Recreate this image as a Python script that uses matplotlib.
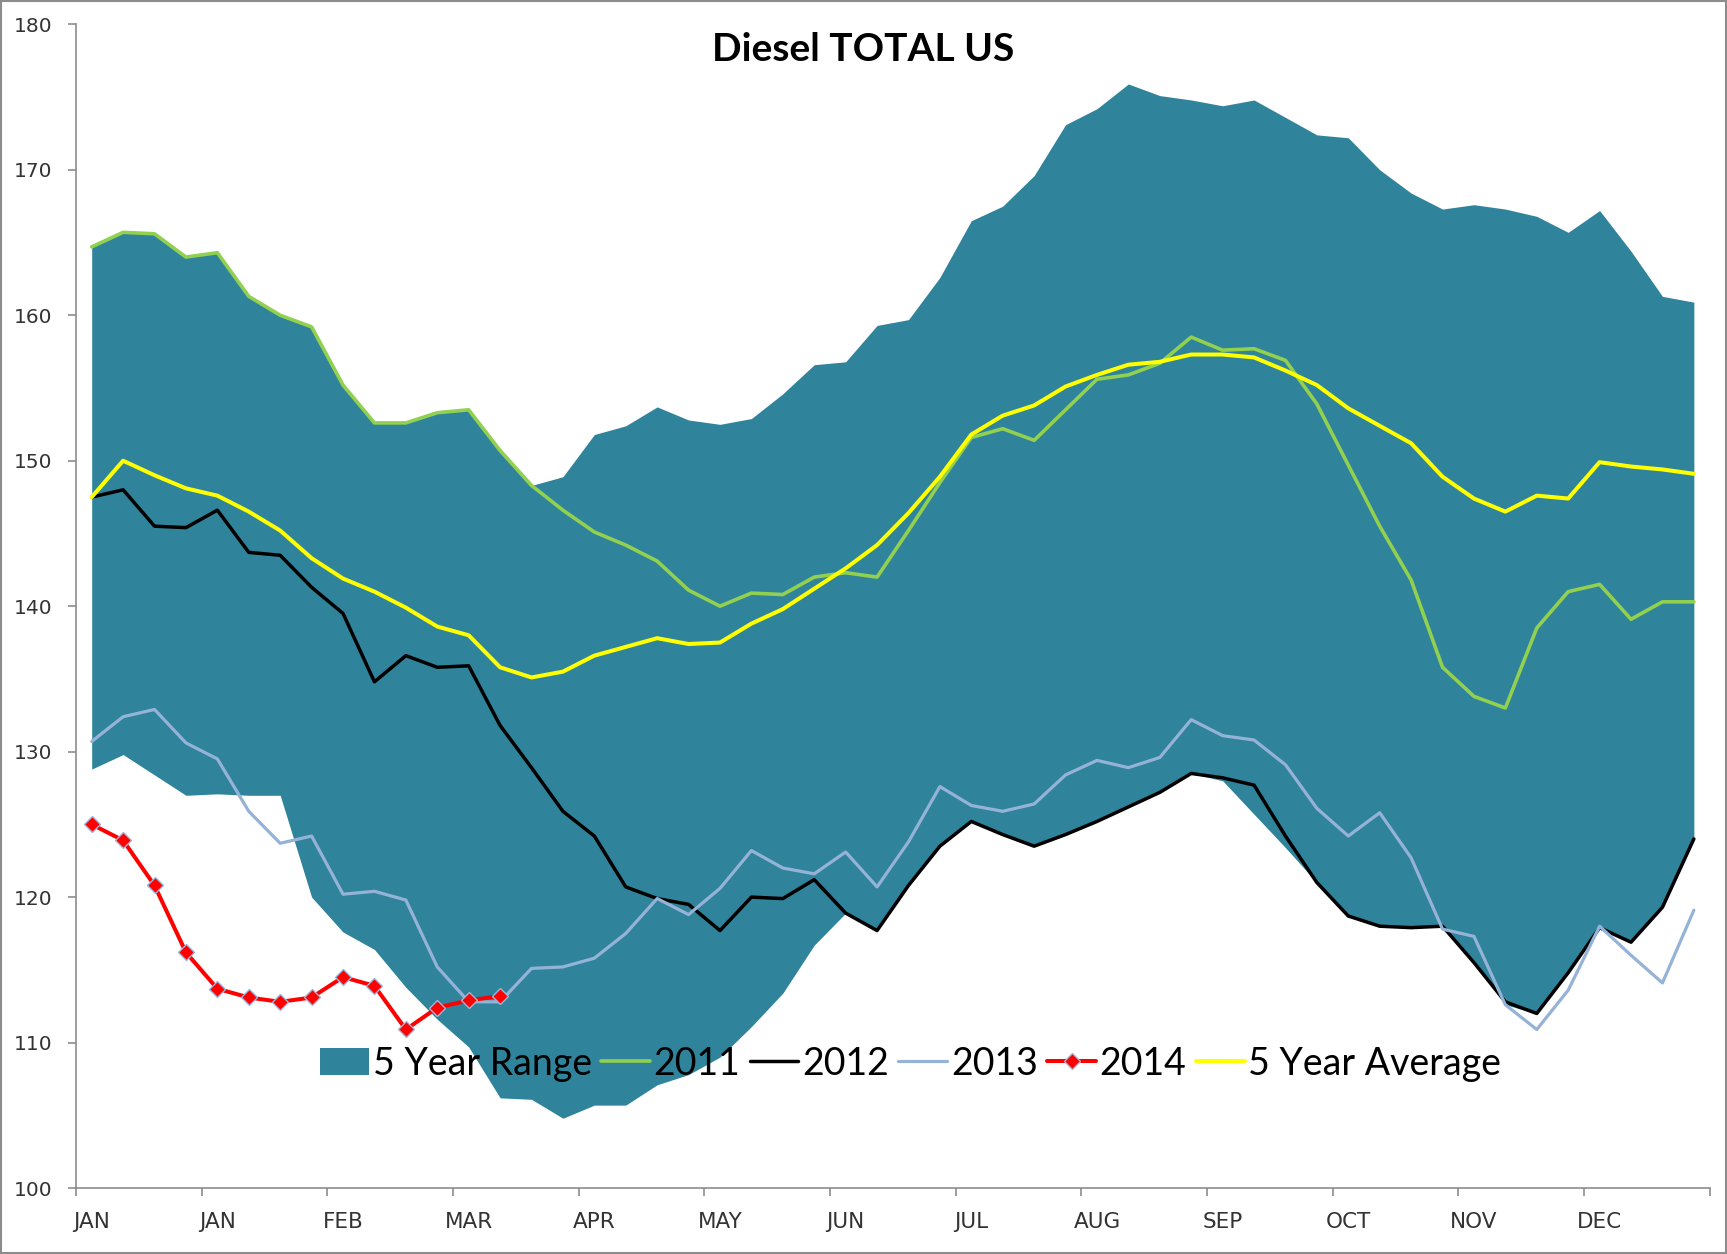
import numpy as np
import matplotlib.pyplot as plt

# weekly data, 52 weeks
weeks = np.arange(52)
months = ['JAN', 'JAN', 'FEB', 'MAR', 'APR', 'MAY', 'JUN',
          'JUL', 'AUG', 'SEP', 'OCT', 'NOV', 'DEC']

range_hi = [164.7, 165.7, 165.6, 164.0, 164.3, 161.3, 160.0, 159.2, 155.2, 152.6,
            152.6, 153.3, 153.5, 150.7, 148.3, 148.9, 151.8, 152.4, 153.7, 152.8,
            152.5, 152.9, 154.6, 156.6, 156.8, 159.3, 159.7, 162.6, 166.5, 167.5,
            169.6, 173.1, 174.2, 175.9, 175.1, 174.8, 174.4, 174.8, 173.6, 172.4,
            172.2, 170.0, 168.4, 167.3, 167.6, 167.3, 166.8, 165.7, 167.2, 164.4,
            161.3, 160.9]
range_lo = [128.8, 129.8, 128.4, 127.0, 127.1, 127.0, 127.0, 120.0, 117.6, 116.4,
            113.8, 111.6, 109.7, 106.2, 106.1, 104.8, 105.7, 105.7, 107.1, 107.8,
            109.0, 111.1, 113.4, 116.7, 118.9, 117.7, 120.8, 123.5, 125.2, 124.3,
            123.5, 124.3, 125.2, 126.2, 127.2, 128.5, 128.0, 125.7, 123.4, 121.0,
            118.7, 118.0, 117.9, 118.0, 115.5, 112.6, 112.0, 114.8, 117.9, 116.9,
            119.3, 124.0]
y2011 = [164.7, 165.7, 165.6, 164.0, 164.3, 161.3, 160.0, 159.2, 155.2, 152.6,
         152.6, 153.3, 153.5, 150.7, 148.3, 146.6, 145.1, 144.2, 143.1, 141.1,
         140.0, 140.9, 140.8, 142.0, 142.3, 142.0, 145.2, 148.5, 151.6, 152.2,
         151.4, 153.5, 155.6, 155.9, 156.7, 158.5, 157.6, 157.7, 156.9, 153.9,
         149.7, 145.5, 141.8, 135.8, 133.8, 133.0, 138.5, 141.0, 141.5, 139.1,
         140.3, 140.3]
y2012 = [147.5, 148.0, 145.5, 145.4, 146.6, 143.7, 143.5, 141.3, 139.5, 134.8,
         136.6, 135.8, 135.9, 131.8, 128.9, 125.9, 124.2, 120.7, 119.9, 119.5,
         117.7, 120.0, 119.9, 121.2, 118.9, 117.7, 120.8, 123.5, 125.2, 124.3,
         123.5, 124.3, 125.2, 126.2, 127.2, 128.5, 128.2, 127.7, 124.2, 121.0,
         118.7, 118.0, 117.9, 118.0, 115.5, 112.8, 112.0, 114.8, 117.9, 116.9,
         119.3, 124.0]
y2013 = [130.7, 132.4, 132.9, 130.6, 129.5, 125.9, 123.7, 124.2, 120.2, 120.4,
         119.8, 115.2, 112.8, 112.8, 115.1, 115.2, 115.8, 117.5, 119.9, 118.8,
         120.6, 123.2, 122.0, 121.6, 123.1, 120.7, 123.8, 127.6, 126.3, 125.9,
         126.4, 128.4, 129.4, 128.9, 129.6, 132.2, 131.1, 130.8, 129.1, 126.1,
         124.2, 125.8, 122.7, 117.8, 117.3, 112.6, 110.9, 113.6, 118.0, 116.0,
         114.1, 119.1]
y2014 = [125.0, 123.9, 120.8, 116.2, 113.7, 113.1, 112.8, 113.1, 114.5, 113.9,
         110.9, 112.4, 112.9, 113.2]
avg5 = [147.5, 150.0, 149.0, 148.1, 147.6, 146.5, 145.2, 143.3, 141.9, 141.0,
        139.9, 138.6, 138.0, 135.8, 135.1, 135.5, 136.6, 137.2, 137.8, 137.4,
        137.5, 138.8, 139.8, 141.2, 142.6, 144.2, 146.4, 148.9, 151.8, 153.1,
        153.8, 155.1, 155.9, 156.6, 156.8, 157.3, 157.3, 157.1, 156.2, 155.2,
        153.6, 152.4, 151.2, 148.9, 147.4, 146.5, 147.6, 147.4, 149.9, 149.6,
        149.4, 149.1]

axis_grey = '#8c8c8c'
label_grey = '#333333'

fig = plt.figure(figsize=(17.27, 12.54), dpi=100)
ax = fig.add_axes([0.044, 0.0526, 0.9459, 0.928])

ax.fill_between(weeks, range_lo, range_hi, color='#2F839B', linewidth=0,
                label='5 Year Range', zorder=1)
line_kw = dict(solid_joinstyle='round', solid_capstyle='round')
ax.plot(weeks, y2011, color='#92D050', lw=2.6, label='2011', zorder=2, **line_kw)
ax.plot(weeks, y2012, color='black', lw=2.5, label='2012', zorder=3, **line_kw)
ax.plot(weeks, y2013, color='#95B3D7', lw=2.3, label='2013', zorder=4, **line_kw)
ax.plot(np.arange(len(y2014)), y2014, color='#FF0000', lw=2.9, marker='D', ms=8,
        mfc='#FF0000', mec='#9DB5D8', mew=1.0, label='2014', zorder=6, **line_kw)
ax.plot(weeks, avg5, color='#FFFF00', lw=2.9, label='5 Year Average', zorder=5, **line_kw)

ax.set_xlim(-0.5, 51.5)
ax.set_ylim(100, 180)
ax.set_yticks(range(100, 181, 10))

# tick marks between groups of four weeks, month labels under the first week
ax.set_xticks(np.arange(-0.5, 52, 4))
ax.set_xticklabels([])
ax.set_xticks(np.arange(0, 52, 4), minor=True)
ax.set_xticklabels(months, minor=True)
ax.tick_params(axis='x', which='major', length=6, width=1.2, color=axis_grey)
ax.tick_params(axis='x', which='minor', length=0, pad=17, labelsize=15.5,
               labelcolor=label_grey)
ax.tick_params(axis='y', length=6, width=1.2, color=axis_grey, pad=11,
               labelsize=14.5, labelcolor=label_grey)

for s in ['top', 'right']:
    ax.spines[s].set_visible(False)
for s in ['left', 'bottom']:
    ax.spines[s].set_color(axis_grey)
    ax.spines[s].set_linewidth(1.2)

fig.text(0.5, 0.9604, 'Diesel TOTAL US', ha='center', va='center',
         fontsize=28, fontweight='bold', family='Lato')

leg = ax.legend(loc='center', bbox_to_anchor=(0.511, 0.107), ncol=6, frameon=False,
                prop={'family': 'Lato', 'size': 27}, handlelength=1.3,
                handletextpad=0.1, columnspacing=0.25, borderaxespad=0)
leg.set_zorder(10)

fig.add_artist(plt.Rectangle((0.0008, 0.0008), 0.9984, 0.9984, transform=fig.transFigure,
                             fill=False, ec=axis_grey, lw=1.5))

fig.savefig('out.png', dpi=100)
